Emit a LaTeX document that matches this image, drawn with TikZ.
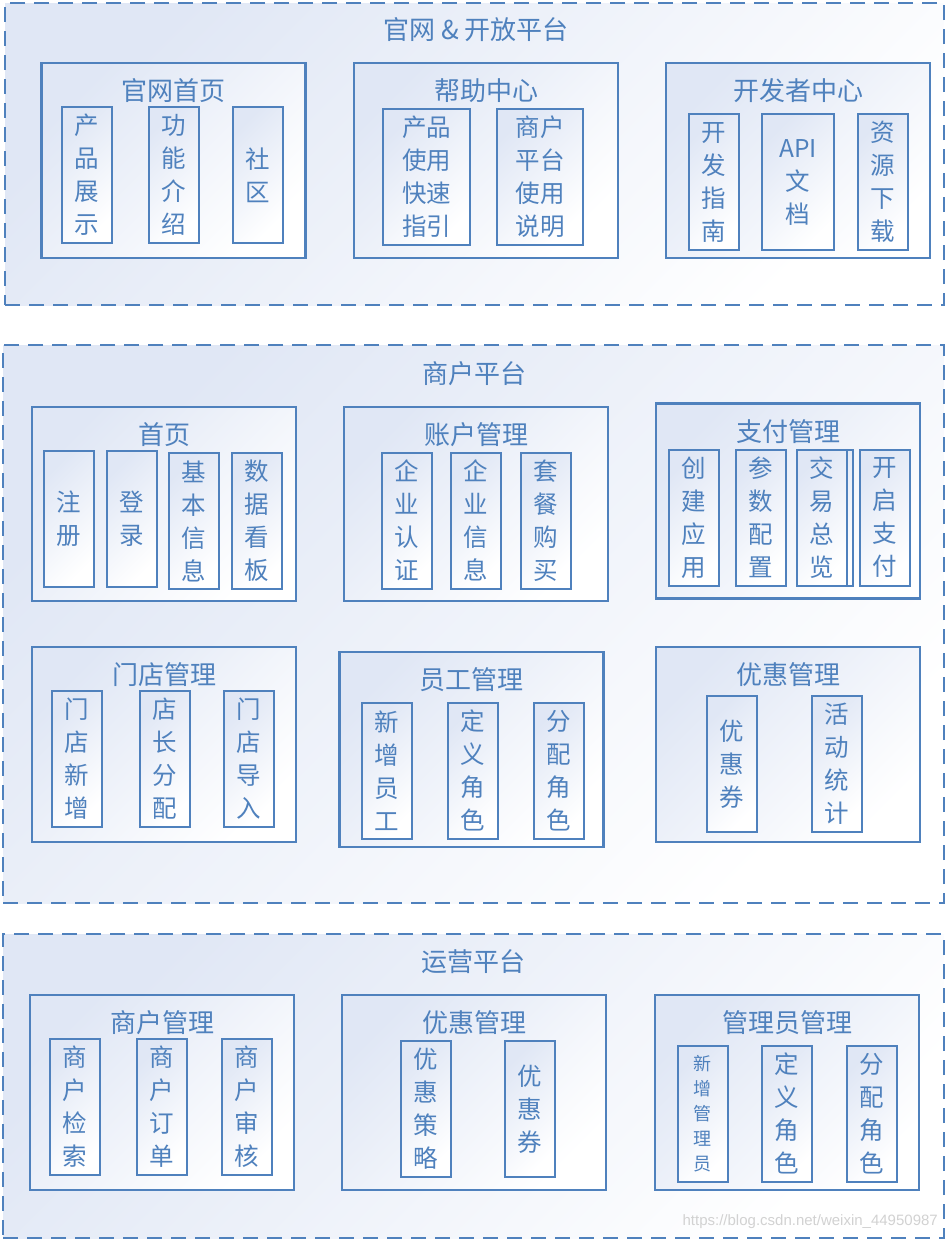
\documentclass[tikz,border=0pt]{standalone}
\usepackage{fontspec}
\setmainfont{Noto Sans CJK SC}
\newfontfamily\urlfont{Liberation Sans}
\usetikzlibrary{positioning}
\definecolor{lineblue}{RGB}{79,129,189}
\definecolor{paleblue}{RGB}{224,231,245}

\begin{document}
\begin{tikzpicture}[x=1pt, y=-1pt,
  fade/.style={top color=paleblue, middle color=white, bottom color=white, shading angle=45},
  section/.style={draw=lineblue, line width=2pt, dash pattern=on 15pt off 9pt,
    fade, inner sep=0pt},
  group/.style={draw=lineblue, line width=2.5pt, fade,
    minimum width=264pt, minimum height=195pt, inner sep=0pt},
  item/.style={draw=lineblue, line width=2pt, fade,
    minimum width=50pt, minimum height=136pt, inner sep=0pt,
    align=center, text=lineblue, font=\fontsize{24.5}{33}\selectfont},
  heading/.style={text=lineblue, font=\fontsize{26}{30}\selectfont, inner sep=0pt},
]
  \useasboundingbox (0,0) rectangle (947,1240);

  % Section 1: official site and open platform
  \node[section, minimum width=939pt, minimum height=302pt] (site) at (474.5,154) {};
  \node[heading] (site-t) at (476,30) {官网 \& 开放平台};

  \node[group] (home) at (173.5,160.5) {};
  \node[heading] (home-t) at ([yshift=-29pt]home.north) {官网首页};
  \node[item] (show) at (87,175) {产\\品\\展\\示};
  \node[item] (feature) at (174,175) {功\\能\\介\\绍};
  \node[item] (forum) at (258,175) {社\\区};

  \node[group] (help) at (486,160.5) {};
  \node[heading] (help-t) at ([yshift=-29pt]help.north) {帮助中心};
  \node[item, minimum width=87pt] (quick) at (426.5,177) {产品\\使用\\快速\\指引};
  \node[item, minimum width=86pt] (manual) at (540,177) {商户\\平台\\使用\\说明};

  \node[group] (dev) at (798,160.5) {};
  \node[heading] (dev-t) at ([yshift=-29pt]dev.north) {开发者中心};
  \node[item] (guide) at (714,182) {开\\发\\指\\南};
  \node[item, minimum width=72pt] (api) at (798,182) {API\\文\\档};
  \node[item] (download) at (883,182) {资\\源\\下\\载};

  % Section 2: merchant platform
  \node[section, minimum width=941pt, minimum height=558pt] (merchant) at (473.5,624) {};
  \node[heading] (merchant-t) at (474,374) {商户平台};

  \node[group, minimum height=194pt] (index) at (164,504) {};
  \node[heading] (index-t) at ([yshift=-29pt]index.north) {首页};
  \node[item] (signup) at (68.5,519) {注\\册};
  \node[item] (login) at (131.5,519) {登\\录};
  \node[item] (info) at (194,521) {基\\本\\信\\息};
  \node[item] (board) at (257,521) {数\\据\\看\\板};

  \node[group, minimum height=194pt] (account) at (476,504) {};
  \node[heading] (account-t) at ([yshift=-29pt]account.north) {账户管理};
  \node[item] (cert) at (407,520.5) {企\\业\\认\\证};
  \node[item] (corp) at (476,520.5) {企\\业\\信\\息};
  \node[item] (plan) at (545.5,520.5) {套\\餐\\购\\买};

  \node[group] (pay) at (788,501) {};
  \node[heading] (pay-t) at ([yshift=-29pt]pay.north) {支付管理};
  \node[item] (app) at (693.5,517.5) {创\\建\\应\\用};
  \node[item] (param) at (761,517.5) {参\\数\\配\\置};
  \node[item] (trade-bk) at (828,517.5) {};
  \node[item] (trade) at (822,517.5) {交\\易\\总\\览};
  \node[item] (open) at (884.5,517.5) {开\\启\\支\\付};

  \node[group] (store) at (164,744.5) {};
  \node[heading] (store-t) at ([yshift=-29pt]store.north) {门店管理};
  \node[item] (newstore) at (77,759) {门\\店\\新\\增};
  \node[item] (manager) at (164.5,759) {店\\长\\分\\配};
  \node[item] (import) at (249,759) {门\\店\\导\\入};

  \node[group] (staff) at (471.5,749.5) {};
  \node[heading] (staff-t) at ([yshift=-29pt]staff.north) {员工管理};
  \node[item] (newstaff) at (387,770.5) {新\\增\\员\\工};
  \node[item] (role) at (473,770.5) {定\\义\\角\\色};
  \node[item] (assign) at (559,770.5) {分\\配\\角\\色};

  \node[group] (promo) at (788,744.5) {};
  \node[heading] (promo-t) at ([yshift=-29pt]promo.north) {优惠管理};
  \node[item] (coupon) at (732,764) {优\\惠\\券};
  \node[item] (stats) at (836.5,764) {活\\动\\统\\计};

  % Section 3: operations platform
  \node[section, minimum width=941pt, minimum height=304pt] (ops) at (473.5,1086) {};
  \node[heading] (ops-t) at (473,962) {运营平台};

  \node[group] (shops) at (162,1092.5) {};
  \node[heading] (shops-t) at ([yshift=-29pt]shops.north) {商户管理};
  \node[item] (search) at (75,1107) {商\\户\\检\\索};
  \node[item] (orders) at (162,1107) {商\\户\\订\\单};
  \node[item] (audit) at (246.5,1107) {商\\户\\审\\核};

  \node[group] (offers) at (474,1092.5) {};
  \node[heading] (offers-t) at ([yshift=-29pt]offers.north) {优惠管理};
  \node[item] (policy) at (425.5,1109) {优\\惠\\策\\略};
  \node[item] (voucher) at (530,1109) {优\\惠\\券};

  \node[group] (admins) at (787,1092.5) {};
  \node[heading] (admins-t) at ([yshift=-29pt]admins.north) {管理员管理};
  \node[item, font=\fontsize{18}{25}\selectfont] (newadmin) at (702.5,1113.5) {新\\增\\管\\理\\员};
  \node[item] (adrole) at (787,1113.5) {定\\义\\角\\色};
  \node[item] (adassign) at (871.5,1113.5) {分\\配\\角\\色};

  % watermark
  \node[anchor=east, inner sep=0pt, text=gray!35, font=\urlfont\fontsize{15}{18}\selectfont] (mark) at (938,1222) {https://blog.csdn.net/weixin\_44950987};
\end{tikzpicture}
\end{document}
